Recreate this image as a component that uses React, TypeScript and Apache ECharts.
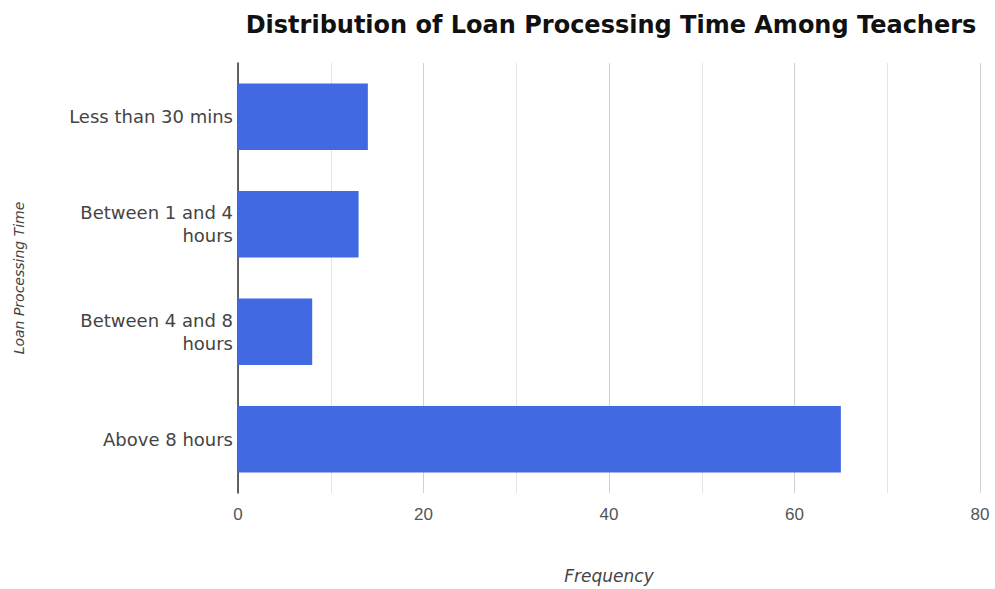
import React, { useEffect, useRef } from "react";
import * as echarts from "echarts";

const categories = [
  "Less than 30 mins",
  "Between 1 and 4\nhours",
  "Between 4 and 8\nhours",
  "Above 8 hours",
];
const frequencies = [14, 13, 8, 65];
const xTicks = [0, 20, 40, 60, 80];

export default function App() {
  const ref = useRef<HTMLDivElement>(null);
  useEffect(() => {
    if (!ref.current) return;
    const chart = echarts.init(ref.current, undefined, { renderer: "svg" });
    chart.setOption({
      animation: false,
      backgroundColor: "#ffffff",
      title: {
        text: "Distribution of Loan Processing Time Among Teachers",
        left: 606,
        textAlign: "center",
        top: 8,
        textStyle: {
          fontFamily: "DejaVu Sans, Arial, sans-serif",
          fontWeight: "bold",
          fontSize: 24,
          color: "#111",
        },
      },
      grid: { left: 238, right: 15, top: 63, bottom: 91, containLabel: false },
      xAxis: {
        type: "value",
        min: xTicks[0],
        max: xTicks[xTicks.length - 1],
        interval: 20,
        name: "Frequency",
        nameLocation: "middle",
        nameGap: 74,
        nameTextStyle: {
          fontFamily: "DejaVu Sans, Arial, sans-serif",
          fontStyle: "italic",
          fontSize: 17,
          color: "#444",
        },
        axisLine: { show: false },
        axisTick: { show: false },
        axisLabel: {
          fontFamily: "Liberation Sans, Arial, sans-serif",
          fontSize: 17,
          color: "#555",
          margin: 13,
        },
        splitLine: { show: true, lineStyle: { color: "#d0d0d0", width: 1 } },
        minorTick: { show: false, splitNumber: 2 },
        minorSplitLine: { show: true, lineStyle: { color: "#e4e4e4", width: 1 } },
      },
      yAxis: {
        type: "category",
        data: categories,
        inverse: true,
        name: "Loan Processing Time",
        nameLocation: "middle",
        nameGap: 212,
        nameRotate: 90,
        nameTextStyle: {
          fontFamily: "DejaVu Sans, Arial, sans-serif",
          fontStyle: "italic",
          fontSize: 14,
          color: "#444",
        },
        axisLine: { show: true, lineStyle: { color: "#333", width: 1.5 } },
        axisTick: { show: false },
        axisLabel: {
          fontFamily: "DejaVu Sans, Arial, sans-serif",
          fontSize: 18,
          color: "#444",
          lineHeight: 23,
          margin: 5,
        },
      },
      series: [
        {
          type: "bar",
          data: frequencies,
          barCategoryGap: "38%",
          itemStyle: { color: "#4169e1" },
        },
      ],
    });
    return () => chart.dispose();
  }, []);
  return (
    <div
      ref={ref}
      style={{ position: "fixed", left: 0, top: 0, width: 995, height: 589 }}
    />
  );
}
